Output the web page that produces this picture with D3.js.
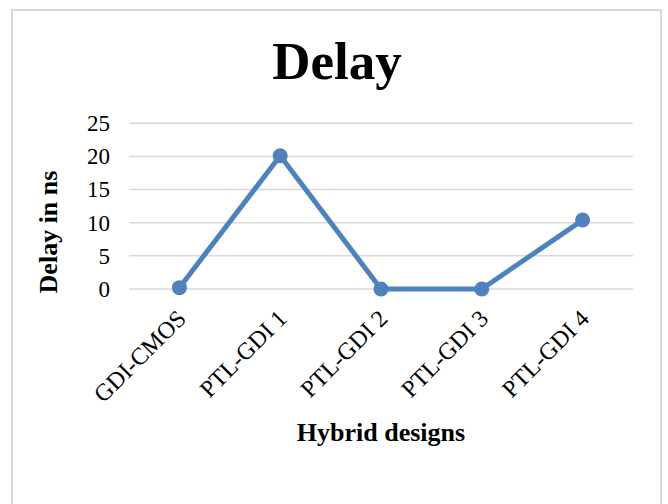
<!DOCTYPE html>
<html>
<head>
<meta charset="utf-8">
<script src="https://cdn.jsdelivr.net/npm/d3@7"></script>
<style>
  body { margin: 0; background: #fff; }
  svg { display: block; }
</style>
</head>
<body>
<div class="chart"></div>
<script>
// data
const categories = ["GDI-CMOS", "PTL-GDI 1", "PTL-GDI 2", "PTL-GDI 3", "PTL-GDI 4"];
const delays = [0.2, 20.1, 0, 0, 10.4];
const yTicks = [0, 5, 10, 15, 20, 25];

const w = 668;
const h = 504;
const serif = "'Liberation Serif', 'Times New Roman', serif";
const blue = "#4f81bd";

const svg = d3.select(".chart")
    .append("svg")
    .attr("width", w)
    .attr("height", h);

// chart border
svg.append("rect")
    .attr("x", 12)
    .attr("y", 10)
    .attr("width", 649)
    .attr("height", 520)
    .attr("fill", "#fff")
    .attr("stroke", "#d9d9d9")
    .attr("stroke-width", 2);

const x = d3.scaleBand()
    .domain(categories)
    .range([129, 633]);

const y = d3.scaleLinear()
    .domain([0, 25])
    .range([289, 123.3]);

// gridlines
svg.append("g")
    .selectAll("line")
    .data(yTicks)
    .enter()
    .append("line")
        .attr("x1", 129)
        .attr("x2", 633)
        .attr("y1", d => y(d))
        .attr("y2", d => y(d))
        .attr("stroke", "#d9d9d9")
        .attr("stroke-width", 1.5);

// y axis (labels only)
const yAxis = svg.append("g")
    .attr("transform", "translate(129,0)")
    .call(d3.axisLeft(y).tickValues(yTicks).tickSize(0).tickPadding(19));
yAxis.select(".domain").remove();
yAxis.selectAll("text")
    .attr("font-family", serif)
    .attr("font-size", "23px")
    .attr("fill", "#000");

// x axis (rotated labels)
const xAxis = svg.append("g")
    .attr("transform", "translate(0,289)")
    .call(d3.axisBottom(x).tickSize(0).tickPadding(0));
xAxis.select(".domain").remove();
xAxis.selectAll("text")
    .attr("font-family", serif)
    .attr("font-size", "24px")
    .attr("fill", "#000")
    .attr("text-anchor", "end")
    .attr("dy", "0.35em")
    .attr("transform", "translate(2,25) rotate(-45)");

// line + markers
const line = d3.line()
    .x((d, i) => x(categories[i]) + x.bandwidth() / 2)
    .y(d => y(d));

svg.append("path")
    .attr("d", line(delays))
    .attr("fill", "none")
    .attr("stroke", blue)
    .attr("stroke-width", 5)
    .attr("stroke-linejoin", "round");

svg.selectAll("circle.pt")
    .data(delays)
    .enter()
    .append("circle")
        .attr("class", "pt")
        .attr("cx", (d, i) => x(categories[i]) + x.bandwidth() / 2)
        .attr("cy", d => y(d))
        .attr("r", 7.5)
        .attr("fill", blue);

// titles
svg.append("text")
    .text("Delay")
    .attr("x", 337)
    .attr("y", 79)
    .attr("text-anchor", "middle")
    .attr("font-family", serif)
    .attr("font-weight", "bold")
    .attr("font-size", "53px");

svg.append("text")
    .text("Hybrid designs")
    .attr("x", 381)
    .attr("y", 441)
    .attr("text-anchor", "middle")
    .attr("font-family", serif)
    .attr("font-weight", "bold")
    .attr("font-size", "26px");

svg.append("text")
    .text("Delay in ns")
    .attr("transform", "translate(57,232) rotate(-90)")
    .attr("text-anchor", "middle")
    .attr("font-family", serif)
    .attr("font-weight", "bold")
    .attr("font-size", "26px");
</script>
</body>
</html>
